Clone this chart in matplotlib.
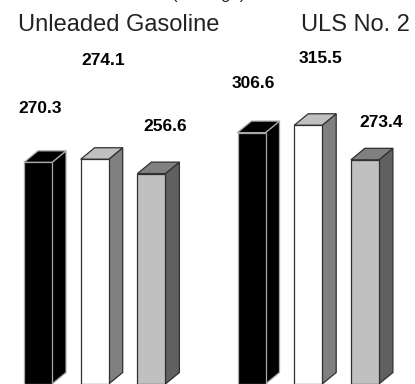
import matplotlib
matplotlib.use("Agg")
import matplotlib.pyplot as plt
from matplotlib.patches import Polygon

# ---- data ----
groups = ["Unleaded Gasoline", "ULS No. 2"]
series = ["Series A", "Series B", "Series C"]
values = {
    "Unleaded Gasoline": [270.3, 274.1, 256.6],
    "ULS No. 2": [306.6, 315.5, 273.4],
}
subtitle = "(Average)"

# ---- style ----
front_colors = ["#000000", "#ffffff", "#c0c0c0"]
side_colors = ["#000000", "#808080", "#606060"]
top_colors = ["#000000", "#c0c0c0", "#808080"]
edge_colors = ["#a8a8a8", "#303030", "#303030"]

W, H = 415, 384
px_per_unit = 0.82           # vertical scale (pixels per cent)
first_center = 38.0          # x of first bar centre (pixels)
pitch = 56.7                 # bar-to-bar spacing
group_gap = 213.5            # group-to-group spacing
bar_w = 28.0
dx = 14.0                    # depth offset (pixels)
dy = 11.5 / px_per_unit      # depth offset (value units)

# label placement (x shift in px, y in value units above the bar value)
label_dx = [[2, 8.5, 14], [1.5, 12.5, 16]]
label_dy = [[66, 120, 57], [60, 81, 46]]

plt.rcParams["font.family"] = ["Liberation Sans", "DejaVu Sans"]

fig = plt.figure(figsize=(W / 100, H / 100), dpi=100)
ax = fig.add_axes([0, 0, 1, 1])
ax.set_xlim(0, W)
ax.set_ylim(0, H / px_per_unit)
ax.axis("off")

for g, grp in enumerate(groups):
    for i, v in enumerate(values[grp]):
        xc = first_center + g * group_gap + i * pitch
        x0 = xc - bar_w / 2
        x1 = xc + bar_w / 2
        ec = edge_colors[i]
        lw = 0.9
        front = Polygon([(x0, 0), (x1, 0), (x1, v), (x0, v)], closed=True,
                        facecolor=front_colors[i], edgecolor=ec, lw=lw)
        side = Polygon([(x1, 0), (x1 + dx, dy), (x1 + dx, v + dy), (x1, v)],
                       closed=True, facecolor=side_colors[i], edgecolor=ec, lw=lw)
        top = Polygon([(x0, v), (x0 + dx, v + dy), (x1 + dx, v + dy), (x1, v)],
                      closed=True, facecolor=top_colors[i], edgecolor=ec, lw=lw)
        for p in (side, top, front):
            ax.add_patch(p)
        ax.text(xc + label_dx[g][i], v + label_dy[g][i], f"{v:.1f}",
                ha="center", va="center", fontsize=12.5, fontweight="bold",
                color="black")

# group titles
fig.text(18 / W, 1 - 31 / H, groups[0], fontsize=17, ha="left",
         va="baseline", color="#222222")
fig.text(410 / W, 1 - 31 / H, groups[1], fontsize=17, ha="right",
         va="baseline", color="#222222")
# subtitle, mostly cut off at the top edge as in the original
fig.text(209 / W, 1 + 1.0 / H, subtitle, fontsize=12, ha="center",
         va="baseline", color="#222222")

fig.savefig("out.png", dpi=100)
